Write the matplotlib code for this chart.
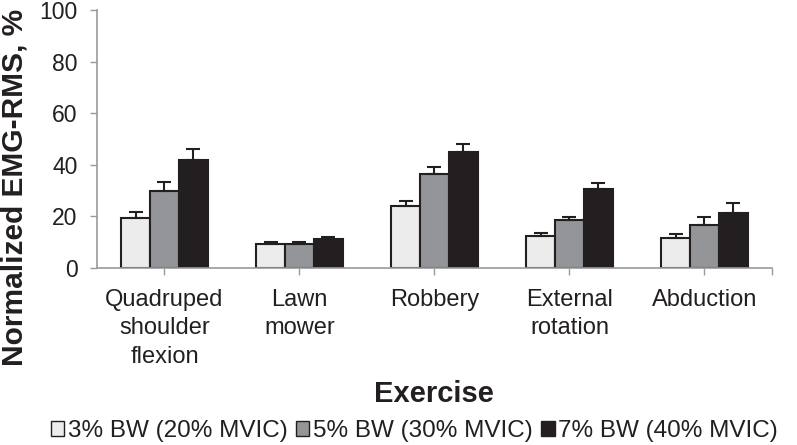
import matplotlib
matplotlib.use("Agg")
import matplotlib.pyplot as plt
import numpy as np
from matplotlib.patches import Patch

plt.rcParams['font.family'] = ['Liberation Sans', 'DejaVu Sans']

categories = ["Quadruped\nshoulder\nflexion", "Lawn\nmower", "Robbery", "External\nrotation", "Abduction"]
series_names = ["3% BW (20% MVIC)", "5% BW (30% MVIC)", "7% BW (40% MVIC)"]
vals_3 = [19.3, 9.2, 24.0, 12.4, 11.5]
vals_5 = [30.0, 9.2, 36.3, 18.6, 16.8]
vals_7 = [41.7, 11.2, 44.8, 30.7, 21.4]
err_3 = [2.5, 0.9, 1.8, 1.0, 1.7]
err_5 = [3.2, 0.9, 3.0, 1.2, 2.9]
err_7 = [4.5, 0.8, 3.4, 2.1, 3.7]
yticks = [0, 20, 40, 60, 80, 100]

colors = ["#ebeceb", "#939598", "#231f20"]
edge = "#231f20"
axcol = "#9a9a9a"

fig = plt.figure(figsize=(7.97, 4.45), dpi=100)
ax = fig.add_axes([0.1217, 0.3978, 0.9686 - 0.1217, 0.9775 - 0.3978])

x = np.arange(len(categories))
w = 0.213
for i, (v, e) in enumerate(zip([vals_3, vals_5, vals_7], [err_3, err_5, err_7])):
    pos = x + (i - 1) * w
    ax.bar(pos, v, width=w, color=colors[i], edgecolor=edge, linewidth=1.5, zorder=2)
    ax.errorbar(pos, v, yerr=[np.zeros(len(e)), e], fmt='none', ecolor=edge,
                elinewidth=1.5, capsize=5, capthick=1.5, zorder=3)

ax.set_xlim(-0.5, len(categories) - 0.5)
ax.set_ylim(0, 100)
ax.set_yticks(yticks)
ax.set_xticks(x)
ax.set_xticks([len(categories) - 0.5], minor=True)
ax.set_xticklabels(categories, fontsize=17, linespacing=1.38)
ax.tick_params(axis='y', labelsize=16.5, length=5, width=1, color=axcol, pad=9, labelcolor="#231f20")
ax.tick_params(axis='x', which='both', length=5, width=1, color=axcol, pad=10, labelcolor="#231f20")

for s in ['top', 'right']:
    ax.spines[s].set_visible(False)
for s in ['left', 'bottom']:
    ax.spines[s].set_color(axcol)
    ax.spines[s].set_linewidth(1.2)

fig.text(0.018, 0.578, "Normalized EMG-RMS, %", fontsize=21.5, fontweight='bold',
         rotation=90, ha='center', va='center', color="#231f20")
fig.text(0.545, 0.114, "Exercise", fontsize=21, fontweight='bold', ha='center', va='center', color="#231f20")

handles = [Patch(facecolor=c, edgecolor=edge, linewidth=1.0) for c in colors]
leg = fig.legend(handles, series_names, loc='center', bbox_to_anchor=(0.52, 0.031), ncol=3,
           frameon=False, fontsize=17.5, handlelength=0.55, handleheight=0.6,
           handletextpad=0.15, columnspacing=0.35, borderaxespad=0)
for t in leg.get_texts():
    t.set_color("#231f20")

fig.savefig("out.png", dpi=100)
